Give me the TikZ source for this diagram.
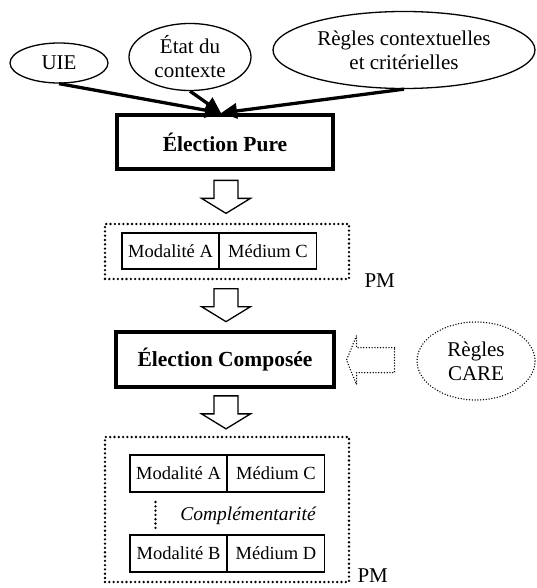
\documentclass[tikz,border=0pt]{standalone}
\usepackage{fontspec}
\setmainfont{Liberation Serif}
\usetikzlibrary{shapes.geometric,arrows.meta,calc}

\tikzset{
  bulle/.style={draw,ellipse,line width=1.3pt,inner sep=0pt,align=center,font=\fontsize{21}{24}\selectfont},
  election/.style={draw,line width=4pt,inner sep=0pt,font=\bfseries\fontsize{21.5}{24}\selectfont},
  cellule/.style={draw,line width=1.3pt,inner sep=0pt,outer sep=0pt,minimum width=97pt,minimum height=36pt,font=\fontsize{18.5}{20}\selectfont},
  pointille/.style={line width=2.6pt,dash pattern=on 0pt off 4.3pt,line cap=round},
  finpoint/.style={line width=1.5pt,dash pattern=on 0pt off 2.8pt,line cap=round},
  fleche/.style={line width=3.3pt,-{Triangle[length=16pt,width=15pt]}},
  etiquette/.style={font=\fontsize{21}{24}\selectfont,inner sep=0pt,anchor=west},
  pics/versbas/.style={code={
    \draw[line width=1.3pt] (-12,-16.5) -- (12,-16.5) -- (12,1.5) -- (24.5,1.5) -- (0,16.5) -- (-24.5,1.5) -- (-12,1.5) -- cycle;}},
  pics/versgauche/.style={code={
    \draw[finpoint] (24,-12.5) -- (-14,-12.5) -- (-14,-24.5) -- (-24,0) -- (-14,24.5) -- (-14,12.5) -- (24,12.5) -- cycle;}},
}

\begin{document}
\begin{tikzpicture}[x=1pt,y=-1pt]
  \useasboundingbox (0,0) rectangle (537,588);

  % entrees
  \node[bulle,minimum width=98pt,minimum height=40pt] (uie) at (59,63) {UIE};
  \node[bulle,minimum width=122pt,minimum height=67pt] (etat) at (190,57) {État du\\contexte};
  \node[bulle,minimum width=262pt,minimum height=77pt] (regles) at (404,50) {Règles contextuelles\\et critérielles};

  \node[election,minimum width=216pt,minimum height=54pt] (pure) at (225,142) {Élection Pure};
  \coordinate (meet) at ([xshift=-4pt]pure.north);
  \draw[fleche] (uie.south) -- (meet);
  \draw[fleche] (etat.south) -- (meet);
  \draw[fleche] (regles.south) -- (meet);

  % premier PM
  \node[draw,pointille,minimum width=244pt,minimum height=55pt] (pm1) at (227,251.5) {};
  \node[cellule] (moda1) at (170.5,251) {Modalité A};
  \node[cellule] (medc1) at (268,251) {Médium C};
  \node[etiquette] (pmlab1) at ([xshift=14pt]pm1.south east) {PM};
  \pic at ($(pure.south)!.5!(pm1.north)$) {versbas};

  % election composee
  \node[election,minimum width=218pt,minimum height=55pt] (comp) at (225,359.5) {Élection Composée};
  \pic at ($(pm1.south)!.5!(comp.north)$) {versbas};
  \node[bulle,finpoint,minimum width=118pt,minimum height=78pt] (care) at (476,361) {Règles\\CARE};
  \pic at ($(comp.east)!.43!(care.west)$) {versgauche};

  % second PM
  \node[draw,pointille,minimum width=244pt,minimum height=145pt] (pm2) at (227,509.5) {};
  \pic at ($(comp.south)!.5!(pm2.north)$) {versbas};
  \node[cellule,minimum height=37pt] (moda2) at (178.5,473.5) {Modalité A};
  \node[cellule,minimum height=37pt] (medc2) at (276,473.5) {Médium C};
  \node[cellule,minimum height=37pt] (modb2) at (178.5,553.5) {Modalité B};
  \node[cellule,minimum height=37pt] (medd2) at (276,553.5) {Médium D};
  \coordinate (lien1) at ([xshift=-23pt,yshift=-10pt]moda2.south);
  \coordinate (lien2) at ([xshift=-23pt,yshift=5pt]modb2.north);
  \draw[pointille] (lien1) -- (lien2);
  \node[font=\itshape\fontsize{19.5}{22}\selectfont] (compl) at (248,516) {Complémentarité};
  \node[etiquette] (pmlab2) at ([xshift=7pt,yshift=8pt]pm2.south east) {PM};
\end{tikzpicture}
\end{document}
